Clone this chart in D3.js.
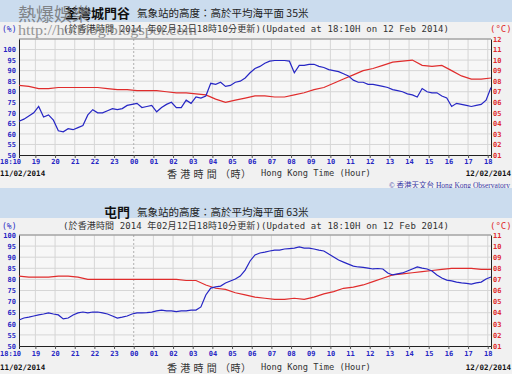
<!DOCTYPE html>
<html>
<head>
<meta charset="utf-8">
<script src="https://cdn.jsdelivr.net/npm/d3@7"></script>
<style>
  body { margin: 0; background: #f1f1f1; }
  svg { display: block; }
</style>
</head>
<body>
<svg id="chart" width="512" height="374"></svg>
<script>
// readings, 11/02/2014 18:10 -> 12/02/2014 18:10
// RH every 15 min, temperature every 30 min
const rhStepMin = 15;
const tempStepMin = 30;

// 荃灣城門谷
const smvRH = [66, 67, 68.5, 70, 73, 68, 69, 66.5, 61.5, 61,
  62.5, 62, 63, 64, 69, 71.5, 70, 70, 71, 72,
  71.5, 72, 73.5, 74, 74.5, 72.5, 73, 73.5, 70.5, 72.5,
  74, 75, 72.5, 72.5, 76, 74.5, 77.5, 77, 78, 84,
  83.5, 84.5, 82.5, 83, 84.5, 85, 86.5, 89, 91, 92,
  93.5, 94.5, 94.8, 94.8, 94.8, 94.5, 89, 92.5, 92.5, 93,
  93, 92, 91.5, 90.5, 90, 89.5, 88.5, 87.5, 85.5, 84.5,
  84.5, 83.5, 83.5, 83, 82.5, 82, 81, 80.5, 80, 79,
  78.5, 77.5, 81.5, 80, 79.5, 79.5, 78, 77, 73, 74.5,
  74, 73.5, 73, 73.5, 74, 76, 82];
const smvTemp = [7.6, 7.5, 7.3, 7.3, 7.4, 7.4, 7.4, 7.4, 7.4, 7.3,
  7.2, 7.2, 7.1, 7.1, 7.1, 7.0, 6.9, 6.9, 6.8, 6.7,
  6.3, 6.0, 6.2, 6.4, 6.6, 6.6, 6.5, 6.5, 6.7, 6.9,
  7.2, 7.4, 7.8, 8.2, 8.6, 9.0, 9.2, 9.5, 9.8, 9.9,
  10.0, 9.5, 9.4, 9.5, 9.0, 8.5, 8.2, 8.2, 8.3];

// 屯門
const tmRH = [61.7, 62.6, 63, 63.5, 64, 64.4, 64.9, 64.4, 64, 62.2,
  62.6, 64, 64.9, 65.3, 64.9, 65.3, 65.3, 64.9, 64.4, 63.5,
  62.6, 63, 63.5, 64.4, 64.9, 64.9, 65, 65.3, 65.8, 66.2,
  65.8, 65.8, 65.5, 65.8, 65.8, 66.2, 66.2, 67.6, 73, 76.1,
  76.6, 77, 78.4, 79.3, 80.2, 81.5, 84.2, 88.3, 91, 91.9,
  92.3, 92.8, 93.2, 93.2, 93.7, 93.9, 94.1, 94.6, 94.1, 94.1,
  93.7, 93.2, 92.8, 91.4, 90.1, 88.7, 87.8, 86.9, 86, 85.6,
  85.4, 85.1, 84.7, 84.9, 84.7, 82.9, 82, 82.5, 82.9, 83.8,
  84.7, 85.6, 85.1, 84.7, 83.8, 82, 80.6, 79.7, 79.3, 78.8,
  78.4, 78.2, 77.9, 78.4, 78.8, 80.2, 81.1];
const tmTemp = [7.3, 7.2, 7.2, 7.2, 7.3, 7.3, 7.2, 7.0, 7.0, 7.0,
  7.0, 7.0, 7.0, 7.0, 7.0, 7.0, 7.0, 6.9, 6.9, 6.5,
  6.2, 6.1, 5.8, 5.6, 5.4, 5.3, 5.2, 5.2, 5.3, 5.2,
  5.4, 5.7, 5.9, 6.2, 6.3, 6.5, 6.8, 7.1, 7.4, 7.5,
  7.6, 7.7, 7.8, 7.9, 8.0, 8.0, 8.0, 7.9, 7.9];

const rhTicks = [50, 55, 60, 65, 70, 75, 80, 85, 90, 95, 100];
const startLabel = "18:10";
const leftDate = "11/02/2014";
const rightDate = "12/02/2014";

const start = new Date(2014, 1, 11, 18, 10);
const end = new Date(2014, 1, 12, 18, 10);

const svg = d3.select("#chart");
const mono = "'DejaVu Sans Mono', monospace";
const cjk = "'Noto Sans CJK TC', 'Noto Sans CJK SC', sans-serif";
const blue = "#2626c4", red = "#e02c2c";

svg.append("rect").attr("width", 512).attr("height", 374).attr("fill", "#f1f1f1");

// watermark sits on top, drawn at the end
const panels = [
  { name: "荃灣城門谷", height: "35米", band: [0, 22], titleY: 12, subY: 29,
    top: 39, bottom: 155, rhMax: 105, tMax: 12, tickGap: 4, dateY: 173,
    logo: true, rh: smvRH, temp: smvTemp },
  { name: "屯門", height: "63米", band: [188, 218], titleY: 211, subY: 226,
    top: 235, bottom: 346, rhMax: 100, tMax: 11, tickGap: 5.5, dateY: 367,
    logo: false, rh: tmRH, temp: tmTemp }
];

const x = d3.scaleTime().domain([start, end]).range([19, 491]);

panels.forEach(p => {
  // blue title band
  svg.append("rect").attr("x", 0).attr("y", p.band[0]).attr("width", 512)
    .attr("height", p.band[1] - p.band[0]).attr("fill", "#cbdcee");

  svg.append("text").attr("x", 130).attr("y", p.titleY)
    .attr("text-anchor", "end").attr("dominant-baseline", "central")
    .attr("font-family", cjk).attr("font-size", 13).attr("font-weight", "bold")
    .attr("fill", "#111").text(p.name);
  svg.append("text").attr("x", 137).attr("y", p.titleY)
    .attr("dominant-baseline", "central")
    .attr("font-family", cjk).attr("font-size", 10.5)
    .attr("fill", "#222").text("氣象站的高度：高於平均海平面 " + p.height);

  svg.append("text").attr("x", 63).attr("y", p.subY)
    .attr("dominant-baseline", "central")
    .attr("font-family", mono + ", " + cjk).attr("font-size", 9)
    .attr("textLength", 386).attr("lengthAdjust", "spacing")
    .attr("fill", "#333")
    .text("(於香港時間 2014 年02月12日18時10分更新)(Updated at 18:10H on 12 Feb 2014)");

  svg.append("text").attr("x", 2).attr("y", p.subY)
    .attr("dominant-baseline", "central")
    .attr("font-family", mono).attr("font-size", 8).attr("fill", blue)
    .text("(%)");
  svg.append("text").attr("x", 490).attr("y", p.subY)
    .attr("dominant-baseline", "central")
    .attr("font-family", mono).attr("font-size", 9).attr("fill", red)
    .text("(°C)");

  const yRH = d3.scaleLinear().domain([50, p.rhMax]).range([p.bottom, p.top]);
  const yT = d3.scaleLinear().domain([1, p.tMax]).range([p.bottom, p.top]);

  svg.append("rect").attr("x", 19).attr("y", p.top)
    .attr("width", 472).attr("height", p.bottom - p.top).attr("fill", "#f7f7f7");

  const g = svg.append("g");
  // grid
  g.selectAll(".hg").data(d3.range(55, p.rhMax + 1, 5)).join("line")
    .attr("x1", 19).attr("x2", 491)
    .attr("y1", d => yRH(d)).attr("y2", d => yRH(d))
    .attr("stroke", "#d6d6d6").attr("stroke-width", 1);
  const hours = d3.timeHour.range(d3.timeHour.ceil(start), end);
  g.selectAll(".vg").data(hours).join("line")
    .attr("x1", d => x(d)).attr("x2", d => x(d))
    .attr("y1", p.top).attr("y2", p.bottom)
    .attr("stroke", d => d.getHours() === 0 ? "#b0b0b0" : "#d6d6d6")
    .attr("stroke-dasharray", d => d.getHours() === 0 ? "2,2" : null)
    .attr("stroke-width", 1);
  g.append("line").attr("x1", 19).attr("x2", 491).attr("y1", p.top).attr("y2", p.top)
    .attr("stroke", "#8a8a8a");

  // left axis
  const la = svg.append("g").attr("transform", "translate(19,0)")
    .call(d3.axisLeft(yRH).tickValues(rhTicks).tickSize(0).tickPadding(3)
      .tickFormat(d3.format("d")));
  la.select(".domain").attr("stroke", "#222");
  la.selectAll("text").attr("font-family", mono).attr("font-size", 7)
    .attr("font-weight", "bold").attr("fill", blue);

  // right axis
  const ra = svg.append("g").attr("transform", "translate(491,0)")
    .call(d3.axisRight(yT).tickValues(d3.range(1, p.tMax + 1)).tickSize(0).tickPadding(2)
      .tickFormat(d3.format("02d")));
  ra.select(".domain").attr("stroke", "#222");
  ra.selectAll("text").attr("font-family", mono).attr("font-size", 7)
    .attr("font-weight", "bold").attr("fill", red);

  // bottom axis
  const ba = svg.append("g").attr("transform", `translate(0,${p.bottom})`)
    .call(d3.axisBottom(x).tickValues(hours).tickSize(3).tickPadding(p.tickGap - 3)
      .tickFormat(d3.timeFormat("%H")));
  ba.select(".domain").attr("stroke", "#222");
  ba.selectAll("line").attr("stroke", "#555");
  ba.selectAll("text").attr("font-family", mono).attr("font-size", 7)
    .attr("font-weight", "bold").attr("fill", blue);
  ba.append("text").attr("x", 0).attr("y", p.tickGap).attr("dy", "0.71em")
    .attr("text-anchor", "start").attr("font-family", mono).attr("font-size", 7)
    .attr("font-weight", "bold").attr("fill", blue).text(startLabel);

  // dates and axis title
  svg.append("text").attr("x", 0).attr("y", p.dateY).attr("dominant-baseline", "central")
    .attr("font-family", mono).attr("font-size", 7.5).attr("font-weight", "bold")
    .attr("fill", "#111").text(leftDate);
  svg.append("text").attr("x", 511).attr("y", p.dateY).attr("dominant-baseline", "central")
    .attr("text-anchor", "end")
    .attr("font-family", mono).attr("font-size", 7.5).attr("font-weight", "bold")
    .attr("fill", "#111").text(rightDate);
  svg.append("text").attr("x", 167).attr("y", p.dateY).attr("dominant-baseline", "central")
    .attr("font-family", cjk).attr("font-size", 10).attr("fill", "#333")
    .attr("textLength", 84).attr("lengthAdjust", "spacing")
    .text("香 港 時 間 （時）");
  svg.append("text").attr("x", 261).attr("y", p.dateY).attr("dominant-baseline", "central")
    .attr("font-family", mono).attr("font-size", 8.7).attr("fill", "#333")
    .text("Hong Kong Time (Hour)");

  if (p.logo) {
    svg.append("text").attr("x", 389).attr("y", 185).attr("dominant-baseline", "central")
      .attr("font-family", "'Liberation Serif', " + cjk).attr("font-size", 7.5)
      .attr("fill", "#3a3aa8").attr("textLength", 121).attr("lengthAdjust", "spacingAndGlyphs")
      .text("© 香港天文台 Hong Kong Observatory");
  }

  // series
  const tRH = (d, i) => x(d3.timeMinute.offset(start, i * rhStepMin));
  const tT = (d, i) => x(d3.timeMinute.offset(start, i * tempStepMin));
  svg.append("path").datum(p.temp)
    .attr("d", d3.line().x(tT).y(d => yT(d)))
    .attr("fill", "none").attr("stroke", red).attr("stroke-width", 1.2);
  svg.append("path").datum(p.rh)
    .attr("d", d3.line().x(tRH).y(d => yRH(d)))
    .attr("fill", "none").attr("stroke", blue).attr("stroke-width", 1.2);
});

// watermark
svg.append("text").attr("x", 18).attr("y", 21)
  .attr("font-family", cjk).attr("font-size", 18).attr("fill", "#6e6e6e")
  .attr("opacity", 0.8).text("熱爆娛樂");
svg.append("text").attr("x", 18).attr("y", 35)
  .attr("font-family", "'Liberation Serif', serif").attr("font-size", 15)
  .attr("fill", "#6e6e6e").attr("opacity", 0.7)
  .attr("textLength", 179).attr("lengthAdjust", "spacingAndGlyphs")
  .text("http://hotblog.blogspot.com");
</script>
</body>
</html>
